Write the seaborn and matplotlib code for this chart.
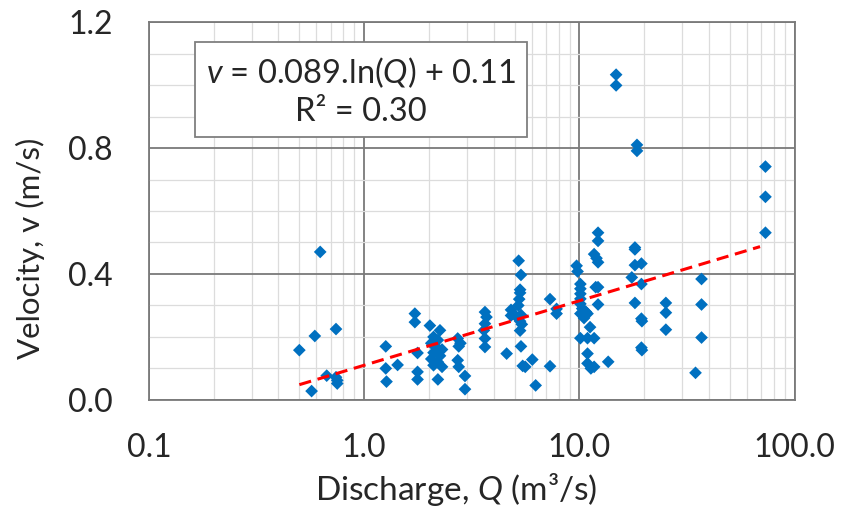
"""
Velocity vs discharge scatter with log trend line.
"""

import numpy as np
import pandas as pd
import matplotlib
matplotlib.use("Agg")
import matplotlib.pyplot as plt
import matplotlib.ticker as mticker
from matplotlib.patches import Rectangle
import seaborn as sns

# --- data ---
discharge = [
    0.50, 0.57, 0.59, 0.625, 0.67, 0.74, 0.74, 0.75, 0.75,
    1.26, 1.26, 1.27, 1.43, 1.72, 1.72, 1.77, 1.77, 1.77,
    2.02, 2.25, 2.10, 2.20, 2.05, 2.15, 2.30, 2.10, 2.25, 2.05, 2.20, 2.10, 2.30, 2.20,
    2.72, 2.75, 2.80, 2.72, 2.75, 2.94, 2.94,
    3.64, 3.70, 3.64, 3.60, 3.64, 3.64,
    4.59, 4.81, 4.81, 5.00,
    5.22, 5.35, 5.30, 5.30, 5.25, 5.20, 5.35, 5.30, 5.40, 5.30, 5.35, 5.45, 5.60,
    6.04, 6.26, 7.30, 7.83, 7.83, 7.30,
    9.70, 9.80, 10.1, 10.1, 10.1, 10.1, 10.1, 10.1, 10.9, 10.3, 10.1, 10.9, 11.7,
    11.2, 10.9, 10.9, 11.7, 11.3, 11.9, 12.2, 12.2, 12.2, 12.2, 11.7, 12.0, 12.2,
    13.6, 10.5, 10.7,
    14.8, 14.8, 18.5, 18.5, 18.1, 18.1, 18.1, 19.4, 17.5, 19.4, 18.1, 19.4, 19.5,
    19.4, 19.5,
    25.2, 25.2, 25.2, 36.9, 36.9, 36.9, 34.6,
    73.1, 73.1, 73.1,
]
velocity = [
    0.158, 0.028, 0.203, 0.470, 0.077, 0.225, 0.072, 0.062, 0.052,
    0.170, 0.100, 0.058, 0.111, 0.274, 0.247, 0.149, 0.089, 0.065,
    0.236, 0.221, 0.200, 0.190, 0.180, 0.170, 0.160, 0.150, 0.140, 0.130, 0.120, 0.110, 0.105, 0.065,
    0.195, 0.170, 0.180, 0.126, 0.105, 0.076, 0.034,
    0.279, 0.263, 0.242, 0.221, 0.195, 0.168,
    0.147, 0.286, 0.268, 0.270,
    0.442, 0.397, 0.350, 0.340, 0.320, 0.300, 0.270, 0.250, 0.240, 0.220, 0.170, 0.108, 0.105,
    0.128, 0.046, 0.320, 0.289, 0.274, 0.107,
    0.426, 0.408, 0.368, 0.353, 0.337, 0.321, 0.305, 0.274, 0.274, 0.290, 0.196, 0.196, 0.196,
    0.231, 0.147, 0.116, 0.105, 0.100, 0.358, 0.358, 0.303, 0.531, 0.505, 0.463, 0.450, 0.437,
    0.121, 0.260, 0.280,
    1.033, 0.999, 0.810, 0.791, 0.484, 0.478, 0.428, 0.433, 0.389, 0.368, 0.308, 0.258, 0.250,
    0.166, 0.158,
    0.308, 0.277, 0.223, 0.384, 0.303, 0.198, 0.086,
    0.741, 0.645, 0.531,
]

# trend line v = a.ln(Q) + b, drawn over the data range
trend_a = 0.089
trend_b = 0.11
trend_q = [0.5, 69.0]

x_ticks = [0.1, 1.0, 10.0, 100.0]
x_tick_labels = ["0.1", "1.0", "10.0", "100.0"]
y_ticks = [0.0, 0.4, 0.8, 1.2]
y_tick_labels = ["0.0", "0.4", "0.8", "1.2"]

# --- style ---
sns.set_theme(style="white")
plt.rcParams["font.family"] = ["Lato", "DejaVu Sans"]
plt.rcParams["mathtext.fontset"] = "custom"
plt.rcParams["mathtext.rm"] = "Lato"
plt.rcParams["mathtext.it"] = "Lato:italic"

TEXT = "#262626"
MAJOR = "#7a7a7a"
MINOR = "#dcdcdc"

df = pd.DataFrame({"Q": discharge, "v": velocity})
trend = pd.DataFrame({"Q": trend_q})
trend["v"] = trend_a * np.log(trend["Q"]) + trend_b

fig, ax = plt.subplots(figsize=(8.41, 5.14), dpi=100)
fig.subplots_adjust(left=0.177, right=0.945, top=0.957, bottom=0.222)

ax.set_xscale("log")
ax.set_xlim(0.1, 100)
ax.set_ylim(0, 1.2)

# grid under the data
ax.set_axisbelow(True)
ax.yaxis.set_minor_locator(mticker.MultipleLocator(0.1))
ax.xaxis.set_minor_locator(mticker.LogLocator(base=10, subs=np.arange(2, 10)))
ax.xaxis.set_minor_formatter(mticker.NullFormatter())
ax.grid(which="minor", color=MINOR, lw=0.9)
ax.grid(which="major", color=MAJOR, lw=1.3)

sns.scatterplot(data=df, x="Q", y="v", marker="D", s=42, color="#0070C0",
                edgecolor="none", ax=ax, zorder=3)
sns.lineplot(data=trend, x="Q", y="v", color="#ff0000", lw=2.2,
             dashes=False, ax=ax, zorder=4)
ax.lines[-1].set_dashes([4, 2.2])

ax.set_xticks(x_ticks)
ax.set_xticklabels(x_tick_labels)
ax.set_yticks(y_ticks)
ax.set_yticklabels(y_tick_labels)

ax.tick_params(axis="both", which="both", direction="out", colors=MAJOR,
               labelcolor=TEXT, labelsize=23)
ax.tick_params(axis="x", which="both", length=8, width=1.2, pad=16)
ax.tick_params(axis="y", which="major", length=10, width=1.3, pad=16)
ax.tick_params(axis="y", which="minor", length=8, width=1.2)

for side in ["left", "bottom", "top", "right"]:
    ax.spines[side].set_visible(True)
    ax.spines[side].set_color(MAJOR)
    ax.spines[side].set_linewidth(1.3)

ax.set_xlabel(r"Discharge, $\it{Q}$ (m³/s)", fontsize=24, color=TEXT, va="center")
ax.set_ylabel("Velocity, v (m/s)", fontsize=22.5, color=TEXT, va="center")
ax.xaxis.set_label_coords(0.475, -0.237)
ax.yaxis.set_label_coords(-0.184, 0.40)

# equation box
ax.add_patch(Rectangle((0.0712, 0.697), 0.514, 0.25, transform=ax.transAxes,
                       facecolor="white", edgecolor="#7f7f7f", lw=1.3, zorder=5))
ax.text(0.328, 0.866, r"$\it{v}$ = 0.089.ln($\it{Q}$) + 0.11", transform=ax.transAxes,
        ha="center", va="center", fontsize=23.5, color=TEXT, zorder=6)
ax.text(0.328, 0.761, "R² = 0.30", transform=ax.transAxes,
        ha="center", va="center", fontsize=23.5, color=TEXT, zorder=6)

plt.savefig("out.png", dpi=100)
plt.close()
